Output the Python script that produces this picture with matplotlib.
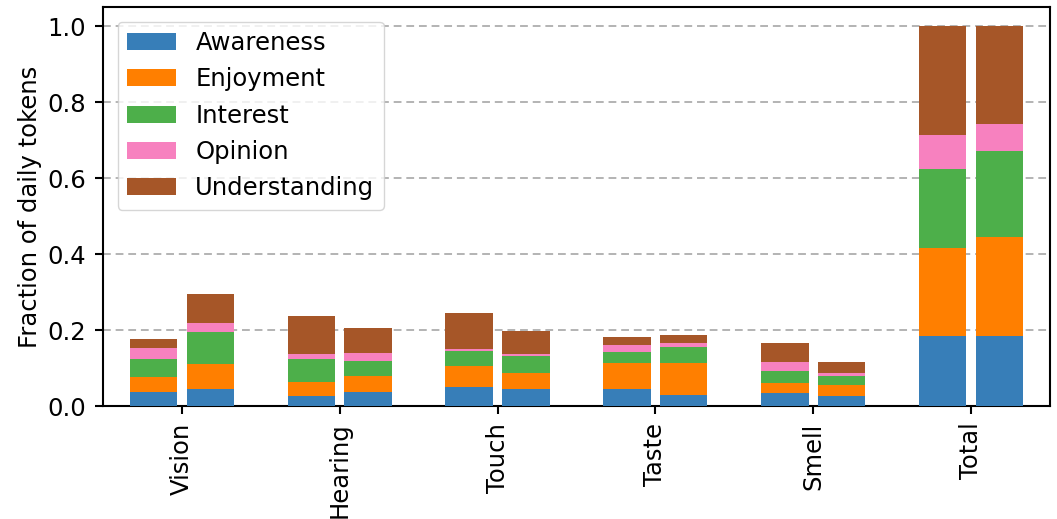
import matplotlib
matplotlib.use("Agg")
import matplotlib.pyplot as plt
import numpy as np

categories = ["Vision", "Hearing", "Touch", "Taste", "Smell", "Total"]
series_names = ["Awareness", "Enjoyment", "Interest", "Opinion", "Understanding"]
colors = ["#377eb8", "#ff7f00", "#4daf4a", "#f781bf", "#a65628"]

# left bar of each pair (segment heights)
left_awareness = [0.036, 0.026, 0.049, 0.046, 0.034, 0.185]
left_enjoyment = [0.041, 0.038, 0.055, 0.068, 0.027, 0.231]
left_interest = [0.047, 0.060, 0.041, 0.027, 0.032, 0.208]
left_opinion = [0.028, 0.013, 0.004, 0.020, 0.024, 0.088]
left_understanding = [0.024, 0.100, 0.096, 0.021, 0.048, 0.288]

# right bar of each pair (segment heights)
right_awareness = [0.046, 0.038, 0.044, 0.030, 0.027, 0.183]
right_enjoyment = [0.064, 0.040, 0.044, 0.084, 0.029, 0.261]
right_interest = [0.084, 0.040, 0.044, 0.040, 0.022, 0.227]
right_opinion = [0.024, 0.022, 0.004, 0.011, 0.010, 0.072]
right_understanding = [0.076, 0.065, 0.062, 0.023, 0.027, 0.257]

left = [left_awareness, left_enjoyment, left_interest, left_opinion, left_understanding]
right = [right_awareness, right_enjoyment, right_interest, right_opinion, right_understanding]

FS = 17.5
fig = plt.figure(figsize=(10.57, 5.19), dpi=100)
ax = fig.add_axes([0.0974, 0.2177, 0.896, 0.7688])

x = np.arange(len(categories))
width = 0.3
off = 0.18

for data, sign in ((left, -1), (right, 1)):
    bottom = np.zeros(len(categories))
    for name, vals, c in zip(series_names, data, colors):
        vals = np.array(vals)
        ax.bar(x + sign * off, vals, width, bottom=bottom, color=c,
               label=name if sign == -1 else None, zorder=3)
        bottom += vals

ax.set_xlim(-0.5, 5.5)
ax.set_ylim(0, 1.05)
ax.set_yticks([0.0, 0.2, 0.4, 0.6, 0.8, 1.0])
ax.set_xticks(x)
ax.set_xticklabels(categories, rotation=90)
ax.tick_params(axis='both', labelsize=FS, length=6, width=1.5, pad=6)
for s in ax.spines.values():
    s.set_linewidth(1.5)
ax.yaxis.grid(True, linestyle=(0, (4, 2.5)), color='#b3b3b3', linewidth=1.4, zorder=0)
ax.set_axisbelow(True)
ax.set_ylabel("Fraction of daily tokens", fontsize=FS)
ax.legend(loc='upper left', fontsize=FS, framealpha=0.8, borderaxespad=0.6)

fig.savefig("out.png", dpi=100)
